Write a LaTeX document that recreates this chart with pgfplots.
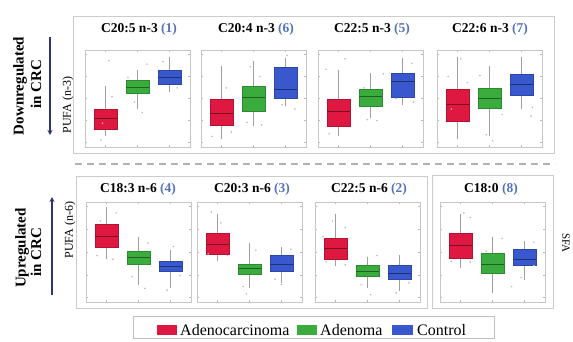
\documentclass[border=0pt]{standalone}
\usepackage{fontspec}
\setmainfont{Liberation Serif}
\usepackage{pgfplots}
\pgfplotsset{compat=1.18}
\usepgfplotslibrary{statistics}
\usetikzlibrary{arrows.meta}
\definecolor{adc}{RGB}{222,24,64}
\definecolor{ade}{RGB}{58,172,62}
\definecolor{ctl}{RGB}{58,88,206}
\definecolor{numc}{RGB}{85,115,185}
\definecolor{navy}{RGB}{45,55,110}
\pgfplotsset{
  panel/.style={scale only axis, width=105pt, anchor=south west,
    xmin=0.35, xmax=3.65, ymin=-0.5, ymax=10.5,
    xtick={1,2,3}, xticklabels={}, ytick={0,2.5,5,7.5,10}, yticklabels={},
    axis line style={gray!45, line width=0.6pt},
    tick style={gray!55, line width=0.4pt}, major tick length=2pt,
    boxplot/draw direction=y,
    boxplot/box extend=0.72, boxplot/whisker extend=0},
}
\newcommand{\bp}[7]{\addplot[boxplot prepared={draw position=#2, lower whisker=#3, lower quartile=#4, median=#5, upper quartile=#6, upper whisker=#7},
  fill=#1, draw=#1!80!black, line width=0.5pt,
  boxplot/every whisker/.style={draw=gray!75, line width=0.5pt},
  boxplot/every median/.style={draw=#1!55!black, line width=0.5pt}] coordinates {};}
\newcommand{\pts}[1]{\addplot[only marks, mark=*, mark size=0.55pt, gray!55] coordinates {#1};}
\begin{document}
\begin{tikzpicture}
\useasboundingbox (0,0) rectangle (573pt,341pt);
% frames
\draw[gray!40, line width=1pt] (73pt,324pt) rectangle (554pt,188pt);
\draw[gray!40, line width=1pt] (76pt,165pt) rectangle (427pt,33pt);
\draw[gray!40, line width=1pt] (432pt,166pt) rectangle (553pt,33pt);
\draw[gray!60, line width=2.6pt, dash pattern=on 7pt off 5pt] (75pt,177pt) -- (555pt,177pt);
% top row
\begin{axis}[panel, height=97pt, at={(85pt,194pt)}]
\bp{adc}{1}{0.7}{1.55}{2.8}{3.8}{6.4}
\bp{ade}{2}{3.8}{5.6}{6.3}{7.1}{8.2}
\bp{ctl}{3}{5.7}{6.6}{7.4}{8.2}{9.7}
\pts{(0.85,0.3) (1.2,5.2) (1.1,9.3) (1.7,7.4) (2.3,8.9) (1.9,4.6) (2.8,9.2) (3.25,6.2) (0.9,2.2) (2.15,3.4)}
\end{axis}
\begin{axis}[panel, height=97pt, at={(201pt,194pt)}]
\bp{adc}{1}{0.4}{2.0}{3.3}{4.9}{8.7}
\bp{ade}{2}{1.9}{3.5}{5.1}{6.4}{9.2}
\bp{ctl}{3}{4.1}{5.0}{6.0}{8.5}{9.6}
\pts{(0.7,0.7) (1.3,1.2) (1.8,2.3) (2.25,2.0) (2.2,7.5) (1.15,6.2) (3.3,3.8) (2.9,4.3) (3.05,9.9) (1.9,8.6)}
\end{axis}
\begin{axis}[panel, height=97pt, at={(318pt,194pt)}]
\bp{adc}{1}{0.7}{1.9}{3.5}{4.9}{8.2}
\bp{ade}{2}{2.8}{4.1}{5.3}{6.0}{7.9}
\bp{ctl}{3}{4.3}{5.1}{6.9}{7.9}{9.6}
\pts{(0.7,1.0) (1.2,9.5) (1.8,6.2) (2.2,2.5) (1.9,2.6) (2.4,7.8) (3.3,9.0) (2.8,5.0) (3.35,4.6) (0.6,8.3)}
\end{axis}
\begin{axis}[panel, height=97pt, at={(437pt,194pt)}]
\bp{adc}{1}{0.4}{2.4}{4.3}{6.0}{9.7}
\bp{ade}{2}{0.7}{3.9}{5.0}{6.2}{8.7}
\bp{ctl}{3}{3.8}{5.4}{6.6}{7.8}{9.7}
\pts{(0.7,7.5) (1.3,6.8) (0.8,3.8) (1.9,0.9) (1.7,7.6) (2.4,3.2) (3.35,4.0) (3.3,3.0) (2.1,0.2) (1.1,9.5)}
\end{axis}
% bottom row
\begin{axis}[panel, height=100pt, at={(86pt,39pt)}]
\bp{adc}{1}{4.2}{5.5}{6.7}{8.0}{9.9}
\bp{ade}{2}{1.4}{3.6}{4.4}{5.1}{6.7}
\bp{ctl}{3}{1.0}{2.9}{3.4}{4.0}{5.2}
\pts{(0.7,4.6) (1.2,4.2) (1.3,9.3) (2.3,6.0) (1.8,2.3) (2.2,1.0) (3.3,2.4) (2.9,0.8) (0.8,8.4) (3.1,5.6)}
\end{axis}
\begin{axis}[panel, height=100pt, at={(197pt,39pt)}]
\bp{adc}{1}{4.0}{4.7}{5.9}{7.1}{9.2}
\bp{ade}{2}{1.0}{2.5}{3.2}{3.7}{6.0}
\bp{ctl}{3}{1.6}{2.9}{3.7}{4.6}{5.5}
\pts{(0.7,4.8) (1.3,4.6) (0.8,9.4) (1.8,1.2) (2.2,5.2) (1.9,0.4) (3.3,5.3) (2.8,2.0) (3.0,1.4) (1.1,8.2)}
\end{axis}
\begin{axis}[panel, height=100pt, at={(315pt,39pt)}]
\bp{adc}{1}{3.5}{4.2}{5.4}{6.5}{9.2}
\bp{ade}{2}{1.0}{2.3}{2.9}{3.5}{4.5}
\bp{ctl}{3}{0.7}{2.0}{2.7}{3.5}{4.7}
\pts{(0.7,3.9) (1.3,3.6) (0.9,8.4) (1.3,7.7) (2.3,4.6) (1.8,1.4) (3.3,1.6) (2.9,0.5) (0.6,6.7) (2.1,0.3)}
\end{axis}
\begin{axis}[panel, height=100pt, at={(440pt,39pt)}]
\bp{adc}{1}{3.2}{4.3}{5.7}{7.1}{9.2}
\bp{ade}{2}{0.5}{2.7}{3.7}{4.9}{6.7}
\bp{ctl}{3}{1.9}{3.5}{4.2}{5.3}{6.2}
\pts{(0.7,4.0) (1.3,3.9) (1.3,8.8) (1.1,9.3) (2.3,6.5) (1.8,5.1) (3.3,6.1) (2.9,2.2) (2.6,1.2) (3.3,3.5)}
\end{axis}
% titles
\begin{scope}[every node/.style={font=\fontsize{13.5}{15}\selectfont\bfseries}]
\node at (139pt,312pt) {C20:5 n-3 \textcolor{numc}{(1)}};
\node at (256pt,312pt) {C20:4 n-3 \textcolor{numc}{(6)}};
\node at (372pt,312pt) {C22:5 n-3 \textcolor{numc}{(5)}};
\node at (490pt,312pt) {C22:6 n-3 \textcolor{numc}{(7)}};
\node at (138pt,152pt) {C18:3 n-6 \textcolor{numc}{(4)}};
\node at (252pt,152pt) {C20:3 n-6 \textcolor{numc}{(3)}};
\node at (369pt,152pt) {C22:5 n-6 \textcolor{numc}{(2)}};
\node at (491pt,152pt) {C18:0 \textcolor{numc}{(8)}};
\end{scope}
% side labels
\begin{scope}[every node/.style={font=\fontsize{15}{17}\selectfont\bfseries, rotate=90}]
\node at (20pt,255pt) {Downregulated};
\node at (36pt,257pt) {in CRC};
\node at (22pt,93pt) {Upregulated};
\node at (36pt,89pt) {in CRC};
\end{scope}
\node[rotate=90, font=\fontsize{12}{14}\selectfont] at (68pt,236pt) {PUFA (n-3)};
\node[rotate=90, font=\fontsize{12}{14}\selectfont] at (70pt,111pt) {PUFA (n-6)};
\node[rotate=-90, font=\fontsize{11}{13}\selectfont] at (566pt,98pt) {SFA};
\draw[navy, line width=1.6pt, -{Stealth[length=5pt,width=5pt]}] (50pt,304pt) -- (50pt,206pt);
\draw[navy, line width=1.6pt, -{Stealth[length=5pt,width=5pt]}] (52pt,46pt) -- (52pt,144pt);
% legend
\draw[gray!50, line width=0.8pt] (133pt,25pt) rectangle (494pt,3pt);
\fill[adc] (157pt,16pt) rectangle (177pt,6pt);
\fill[ade] (297pt,16pt) rectangle (317pt,6pt);
\fill[ctl] (392pt,16pt) rectangle (413pt,6pt);
\node[anchor=base west, inner sep=0pt, font=\fontsize{16}{18}\selectfont\rmfamily] at (180pt,6pt) {Adenocarcinoma};
\node[anchor=base west, inner sep=0pt, font=\fontsize{16}{18}\selectfont\rmfamily] at (320pt,6pt) {Adenoma};
\node[anchor=base west, inner sep=0pt, font=\fontsize{16}{18}\selectfont\rmfamily] at (417pt,6pt) {Control};
\end{tikzpicture}
\end{document}
